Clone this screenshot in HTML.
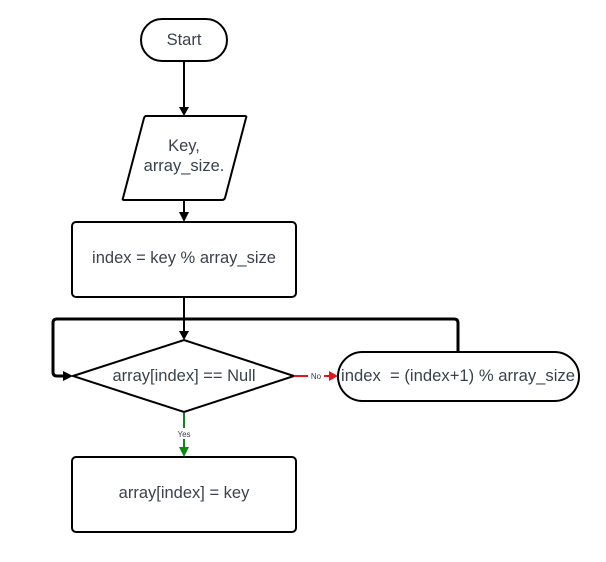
<!DOCTYPE html>
<html><head><meta charset="utf-8"><style>
html,body{margin:0;padding:0;background:#fff;}
svg{display:block}
text{font-family:"Liberation Sans",sans-serif;fill:#3b424c;font-size:16.5px;text-anchor:middle;white-space:pre;}
</style></head><body>
<svg width="606" height="562" viewBox="0 0 606 562" xmlns="http://www.w3.org/2000/svg" xml:space="preserve">
<g fill="none" stroke="#000" stroke-width="2">
<rect x="141" y="19" width="86" height="42" rx="21"/>
<path d="M146 116 L245 116 Q247 116 246 118 L225 198 Q224 200 222 200 L124 200 Q122 200 123 198 L144 118 Q145 116 146 116 Z"/>
<rect x="72" y="222" width="224" height="75" rx="4"/>
<path d="M73 376 L184 340 L294 376 L184 412 Z"/>
<rect x="338" y="352" width="241" height="49" rx="24.5"/>
<rect x="72" y="457" width="224" height="75" rx="4"/>
<path d="M184 61 V108"/>
<path d="M184 200 V215"/>
<path d="M184 297 V333"/>
<path d="M458 352 V323 Q458 319 454 319 H57 Q53 319 53 323 V372 Q53 376 57 376 H66" stroke-width="3"/>
</g>
<g fill="#000">
<path d="M179 107 L189 107 L184 116 Z"/>
<path d="M179 212 L189 212 L184 222 Z"/>
<path d="M179 331 L189 331 L184 340 Z"/>
<path d="M63 371 L63 381 L73 376 Z"/>
</g>
<path d="M294 376 H331" stroke="#e8151b" stroke-width="2"/>
<path d="M329 371 L329 381 L338 376 Z" fill="#e8151b"/>
<rect x="308" y="370" width="16" height="11" fill="#fff"/>
<text x="316" y="379" style="font-size:8px">No</text>
<path d="M184 413 V449" stroke="#0a8a10" stroke-width="2"/>
<path d="M179 447 L189 447 L184 457 Z" fill="#0a8a10"/>
<rect x="174" y="428" width="20" height="11" fill="#fff"/>
<text x="184" y="437" style="font-size:8px">Yes</text>
<text x="184" y="45">Start</text>
<text x="184" y="151">Key,</text>
<text x="184" y="171">array_size.</text>
<text x="184" y="263">index = key % array_size</text>
<text x="184" y="381">array[index] == Null</text>
<text x="458" y="381" textLength="234" lengthAdjust="spacingAndGlyphs">index  = (index+1) % array_size</text>
<text x="184" y="498">array[index] = key</text>
</svg>
</body></html>
